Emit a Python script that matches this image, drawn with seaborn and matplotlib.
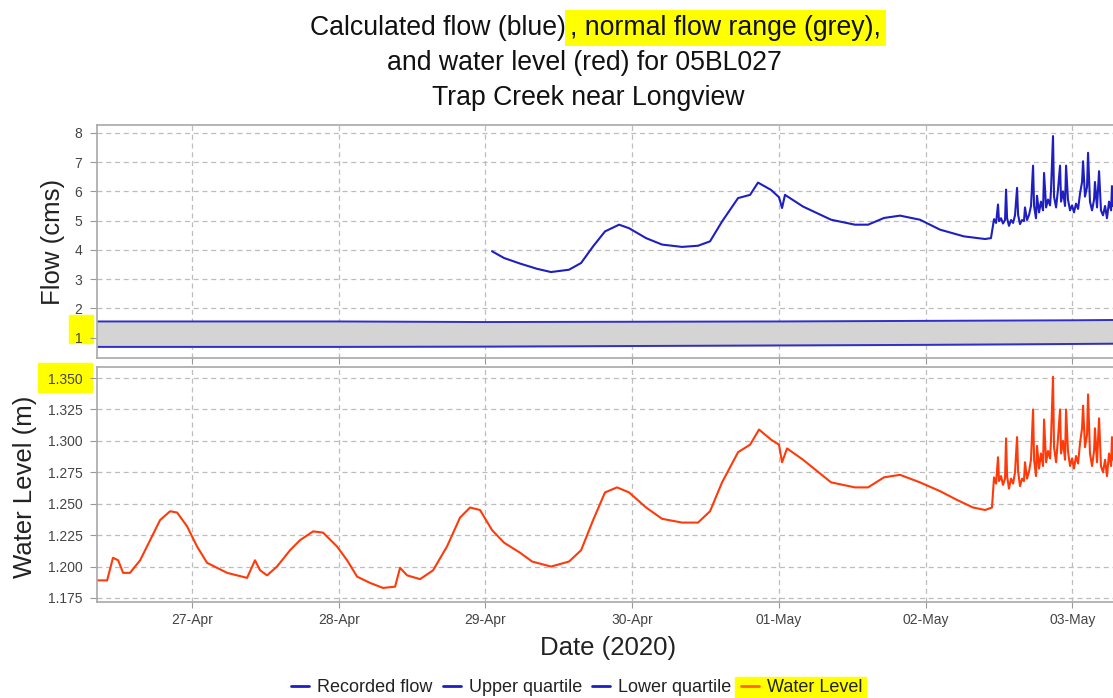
import matplotlib
matplotlib.use("Agg")
import matplotlib.pyplot as plt
import matplotlib.dates as mdates
from matplotlib.lines import Line2D
from matplotlib.patches import Rectangle
import numpy as np
import pandas as pd
import seaborn as sns

# days after 26-Apr-2020 00:00
level_days = [0.352, 0.421, 0.461, 0.496, 0.530, 0.577, 0.646, 0.714, 0.782, 0.850,
              0.898, 0.966, 1.034, 1.102, 1.170, 1.239, 1.375, 1.429, 1.464, 1.511,
              1.579, 1.668, 1.736, 1.825, 1.893, 1.988, 2.057, 2.125, 2.213, 2.302,
              2.384, 2.418, 2.466, 2.554, 2.643, 2.738, 2.827, 2.895, 2.963, 3.045,
              3.127, 3.236, 3.318, 3.447, 3.570, 3.652, 3.734, 3.815, 3.897, 3.979,
              4.095, 4.204, 4.340, 4.449, 4.531, 4.613, 4.722, 4.804, 4.865, 4.947,
              5.001, 5.022, 5.056, 5.165, 5.356, 5.519, 5.608, 5.717, 5.826, 5.962,
              6.099, 6.215, 6.324, 6.406, 6.453]
level_vals = [1.189, 1.189, 1.207, 1.205, 1.195, 1.195, 1.205, 1.221, 1.237, 1.244,
              1.243, 1.232, 1.216, 1.203, 1.199, 1.195, 1.191, 1.205, 1.197, 1.193,
              1.200, 1.213, 1.221, 1.228, 1.227, 1.216, 1.205, 1.192, 1.187, 1.183,
              1.184, 1.199, 1.193, 1.190, 1.197, 1.216, 1.239, 1.247, 1.245, 1.229,
              1.219, 1.211, 1.204, 1.200, 1.204, 1.213, 1.237, 1.259, 1.263, 1.259,
              1.247, 1.238, 1.235, 1.235, 1.244, 1.267, 1.291, 1.297, 1.309, 1.301,
              1.297, 1.283, 1.294, 1.285, 1.267, 1.263, 1.263, 1.271, 1.273, 1.267,
              1.260, 1.253, 1.247, 1.245, 1.247]

flow_days = [3.045, 3.127, 3.236, 3.352, 3.447, 3.570, 3.652, 3.734, 3.815, 3.911,
             3.979, 4.095, 4.204, 4.340, 4.449, 4.531, 4.613, 4.722, 4.804, 4.858,
             4.947, 5.001, 5.022, 5.042, 5.165, 5.356, 5.519, 5.608, 5.717, 5.826,
             5.962, 6.099, 6.262, 6.406, 6.446]
flow_vals = [3.95, 3.72, 3.53, 3.35, 3.24, 3.32, 3.55, 4.12, 4.63, 4.86,
             4.74, 4.40, 4.18, 4.10, 4.14, 4.29, 4.97, 5.77, 5.88, 6.30,
             6.05, 5.80, 5.43, 5.88, 5.48, 5.03, 4.86, 4.86, 5.09, 5.17,
             5.03, 4.69, 4.46, 4.37, 4.40]

# rapid fluctuations from the evening of 02-May onwards
burst_days = [6.467, 6.481, 6.494, 6.501, 6.515, 6.528, 6.542, 6.549, 6.556, 6.569,
              6.583, 6.597, 6.610, 6.624, 6.631, 6.644, 6.658, 6.671, 6.678, 6.692,
              6.706, 6.719, 6.733, 6.740, 6.753, 6.760, 6.774, 6.787, 6.801, 6.808,
              6.822, 6.835, 6.849, 6.855, 6.869, 6.876, 6.890, 6.903, 6.917, 6.924,
              6.937, 6.951, 6.958, 6.971, 6.985, 6.999, 7.012, 7.026, 7.040, 7.053,
              7.067, 7.074, 7.087, 7.101, 7.108, 7.121, 7.135, 7.149, 7.155, 7.169,
              7.183, 7.196, 7.210, 7.224, 7.237, 7.251, 7.265, 7.271, 7.278]
burst_level = [1.271, 1.266, 1.287, 1.268, 1.272, 1.265, 1.270, 1.302, 1.272, 1.262,
               1.270, 1.266, 1.275, 1.303, 1.276, 1.264, 1.270, 1.268, 1.283, 1.270,
               1.276, 1.285, 1.325, 1.285, 1.272, 1.296, 1.278, 1.290, 1.280, 1.317,
               1.283, 1.292, 1.286, 1.300, 1.351, 1.295, 1.283, 1.302, 1.325, 1.290,
               1.300, 1.285, 1.325, 1.292, 1.280, 1.286, 1.278, 1.288, 1.282, 1.298,
               1.310, 1.328, 1.295, 1.305, 1.337, 1.290, 1.280, 1.292, 1.310, 1.283,
               1.318, 1.280, 1.275, 1.285, 1.272, 1.290, 1.280, 1.303, 1.285]
burst_flow = [5.05, 4.92, 5.55, 4.98, 5.08, 4.90, 5.02, 6.06, 5.08, 4.82,
              5.02, 4.92, 5.18, 6.12, 5.20, 4.88, 5.02, 4.98, 5.45, 5.02,
              5.20, 5.50, 6.88, 5.50, 5.08, 5.85, 5.28, 5.65, 5.35, 6.63,
              5.45, 5.72, 5.52, 6.00, 7.89, 5.82, 5.45, 6.06, 6.88, 5.65,
              6.00, 5.50, 6.88, 5.72, 5.35, 5.52, 5.28, 5.58, 5.40, 5.92,
              6.32, 7.03, 5.82, 6.15, 7.32, 5.65, 5.35, 5.72, 6.32, 5.45,
              6.69, 5.35, 5.18, 5.50, 5.08, 5.65, 5.35, 6.18, 5.50]

quart_days = [0.352, 1, 2, 3, 4, 5, 6, 7, 7.278]
upper_q = [1.55, 1.55, 1.55, 1.53, 1.54, 1.55, 1.57, 1.59, 1.60]
lower_q = [0.68, 0.68, 0.68, 0.69, 0.71, 0.73, 0.75, 0.78, 0.79]

start = pd.Timestamp("2020-04-26")


def to_time(days):
    return start + pd.to_timedelta(np.asarray(days, dtype=float), unit="D")


level_df = pd.DataFrame({"time": to_time(level_days + burst_days),
                         "level": level_vals + burst_level})
flow_df = pd.DataFrame({"time": to_time(flow_days + burst_days),
                        "flow": flow_vals + burst_flow})
quart_df = pd.DataFrame({"time": to_time(quart_days), "upper": upper_q, "lower": lower_q})

sns.set_style("whitegrid")
plt.rcParams["font.family"] = ["Liberation Sans", "DejaVu Sans"]

W, H = 1113, 698
fig = plt.figure(figsize=(W / 100, H / 100), dpi=100)


def fx(px):
    return px / W


def fy(py):
    return 1 - py / H


ax1 = fig.add_axes([fx(97), fy(358), fx(1113 - 97), (358 - 125) / H])
ax2 = fig.add_axes([fx(97), fy(602), fx(1113 - 97), (602 - 367) / H], sharex=ax1)

blue = "#1f1fc0"
red = "#ff3a0a"

ax1.fill_between(quart_df["time"], quart_df["lower"], quart_df["upper"],
                 color="#d4d4d4", zorder=1)
sns.lineplot(data=quart_df, x="time", y="upper", ax=ax1, color="#3030c8", linewidth=1.4)
sns.lineplot(data=quart_df, x="time", y="lower", ax=ax1, color="#3030c8", linewidth=1.4)
sns.lineplot(data=flow_df, x="time", y="flow", ax=ax1, color=blue, linewidth=1.5)
sns.lineplot(data=level_df, x="time", y="level", ax=ax2, color=red, linewidth=1.5)

ax1.set_ylim(0.3, 8.27)
ax1.set_yticks(range(1, 9))
ax2.set_ylim(1.1718, 1.3588)
ax2.set_yticks([1.175, 1.2, 1.225, 1.25, 1.275, 1.3, 1.325, 1.35])
ax2.yaxis.set_major_formatter(matplotlib.ticker.FormatStrFormatter("%.3f"))
ax2.set_xlim(to_time([0.352])[0], to_time([7.278])[0])
ax2.xaxis.set_major_locator(mdates.DayLocator())
ax2.xaxis.set_major_formatter(mdates.DateFormatter("%d-%b"))

for ax in (ax1, ax2):
    ax.set_xlabel("")
    ax.set_ylabel("")
    ax.set_facecolor("white")
    ax.grid(True, linestyle=(0, (4, 3)), color="#bdbdbd", linewidth=0.9)
    for side in ("left", "bottom", "top"):
        ax.spines[side].set_color("#a8a8a8")
        ax.spines[side].set_linewidth(1.2)
    ax.spines["right"].set_visible(False)
    ax.tick_params(axis="y", left=True, length=5, width=0.8, color="#999999",
                   labelsize=10, labelcolor="#444444", pad=5.5)
    ax.tick_params(axis="x", bottom=True, length=4, width=0.8, color="#999999",
                   labelsize=10, labelcolor="#444444", pad=4)
ax1.tick_params(axis="x", labelbottom=False)

# yellow highlights on the screenshot
for (x0, y0, x1, y1) in [(69, 315, 93, 343), (38, 363, 92, 392), (735, 677, 866, 698)]:
    fig.add_artist(Rectangle((fx(x0), fy(y1)), fx(x1 - x0), (y1 - y0) / H,
                             transform=fig.transFigure, color="#ffff00", zorder=-1))

fig.text(fx(53), fy(242), "Flow (cms)", rotation=90, ha="center", va="center",
         fontsize=18.5, color="#222222")
fig.text(fx(25), fy(487), "Water Level (m)", rotation=90, ha="center", va="center",
         fontsize=18.5, color="#222222")
fig.text(fx(608), fy(648), "Date (2020)", ha="center", va="center",
         fontsize=18.5, color="#222222")

title_size = 19.2
fig.text(fx(570), fy(28), ", normal flow range (grey),", ha="left", va="center",
         fontsize=title_size, color="#111111",
         bbox=dict(boxstyle="square,pad=0.2", facecolor="#ffff00", edgecolor="none"))
fig.text(fx(566), fy(28), "Calculated flow (blue)", ha="right", va="center",
         fontsize=title_size, color="#111111", zorder=5)
fig.text(fx(584), fy(63), "and water level (red) for 05BL027", ha="center", va="center",
         fontsize=title_size, color="#111111")
fig.text(fx(588), fy(98), "Trap Creek near Longview", ha="center", va="center",
         fontsize=title_size, color="#111111")

handles = [Line2D([], [], color=blue, linewidth=2),
           Line2D([], [], color=blue, linewidth=2),
           Line2D([], [], color=blue, linewidth=2),
           Line2D([], [], color="#ff6a00", linewidth=2)]
labels = ["Recorded flow", "Upper quartile", "Lower quartile", "Water Level"]
leg = fig.legend(handles, labels, loc="center", bbox_to_anchor=(fx(577), fy(688)),
                 ncol=4, frameon=False, handlelength=1.0, handletextpad=0.45,
                 columnspacing=0.55, fontsize=13)
for t in leg.get_texts():
    t.set_color("#222222")

fig.savefig("out.png", dpi=100)
plt.close(fig)
